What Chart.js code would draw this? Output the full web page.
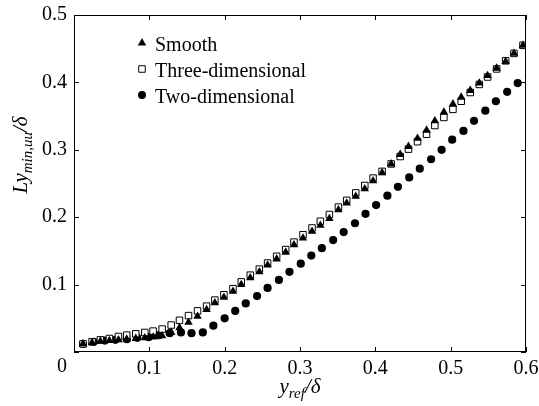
<!DOCTYPE html>
<html><head><meta charset="utf-8">
<script src="https://cdn.jsdelivr.net/npm/chart.js@4/dist/chart.umd.min.js"></script>
<style>html,body{margin:0;padding:0;background:#fff;}#wrap{width:539px;height:406px;position:relative;}</style>
</head><body><div id="wrap"><canvas id="c"></canvas></div>
<script>
// ---- data ----
const seriesNames = ['Smooth', 'Three-dimensional', 'Two-dimensional'];
const smoothX = [0.012,0.024,0.035,0.047,0.059,0.070,0.082,0.094,0.105,0.117,0.129,0.140,0.152,0.164,0.176,0.187,0.199,0.211,0.222,0.234,0.246,0.257,0.269,0.281,0.292,0.304,0.316,0.327,0.339,0.351,0.362,0.374,0.386,0.397,0.409,0.421,0.433,0.444,0.456,0.468,0.479,0.491,0.503,0.514,0.526,0.538,0.549,0.561,0.573,0.584,0.596];
const smoothY = [0.012,0.014,0.016,0.017,0.018,0.019,0.020,0.021,0.022,0.024,0.029,0.036,0.044,0.053,0.063,0.073,0.081,0.090,0.100,0.110,0.119,0.129,0.138,0.148,0.159,0.169,0.179,0.188,0.198,0.211,0.221,0.231,0.242,0.254,0.266,0.279,0.293,0.305,0.317,0.329,0.343,0.356,0.368,0.378,0.388,0.399,0.410,0.421,0.431,0.443,0.455];
const threeDX = [0.012,0.024,0.035,0.047,0.059,0.070,0.082,0.094,0.105,0.117,0.129,0.140,0.152,0.164,0.176,0.187,0.199,0.211,0.222,0.234,0.246,0.257,0.269,0.281,0.292,0.304,0.316,0.327,0.339,0.351,0.362,0.374,0.386,0.397,0.409,0.421,0.433,0.444,0.456,0.468,0.479,0.491,0.503,0.514,0.526,0.538,0.549,0.561,0.573,0.584,0.596];
const threeDY = [0.012,0.015,0.018,0.020,0.023,0.025,0.027,0.029,0.031,0.034,0.040,0.047,0.054,0.061,0.068,0.077,0.085,0.094,0.104,0.114,0.123,0.132,0.142,0.152,0.163,0.174,0.184,0.194,0.204,0.215,0.225,0.236,0.247,0.258,0.268,0.279,0.290,0.301,0.312,0.323,0.336,0.348,0.360,0.372,0.385,0.397,0.408,0.420,0.432,0.443,0.455];
const twoDX = [0.012,0.026,0.041,0.055,0.070,0.084,0.099,0.113,0.127,0.142,0.156,0.171,0.185,0.200,0.214,0.228,0.243,0.257,0.272,0.286,0.301,0.315,0.329,0.344,0.358,0.373,0.387,0.401,0.416,0.430,0.445,0.459,0.474,0.488,0.502,0.517,0.531,0.546,0.560,0.575,0.589];
const twoDY = [0.012,0.015,0.017,0.018,0.019,0.021,0.022,0.025,0.028,0.029,0.028,0.029,0.039,0.050,0.061,0.072,0.083,0.095,0.107,0.119,0.131,0.143,0.154,0.166,0.178,0.191,0.205,0.218,0.232,0.245,0.259,0.272,0.286,0.300,0.315,0.328,0.343,0.358,0.372,0.386,0.399];
const xTickValues = [0, 0.1, 0.2, 0.3, 0.4, 0.5, 0.6];
const yTickValues = [0, 0.1, 0.2, 0.3, 0.4, 0.5];

const pts = (xs, ys) => xs.map((v, i) => ({x: v, y: ys[i]}));
const SERIF = '"Liberation Serif", "Times New Roman", serif';

const styles = [
  {pointStyle: 'triangle', pointRadius: 4.9, backgroundColor: '#000', borderColor: '#000', borderWidth: 0},
  {pointStyle: 'rect', pointRadius: 4.6, backgroundColor: '#fff', borderColor: '#000', borderWidth: 1},
  {pointStyle: 'circle', pointRadius: 4.1, backgroundColor: '#000', borderColor: '#000', borderWidth: 0}
];

function drawRuns(ctx, parts, cx, by) {
  let w = 0;
  parts.forEach(p => { ctx.font = p.font; p.w = ctx.measureText(p.t).width; w += p.w; });
  let xx = cx - w / 2;
  parts.forEach(p => { ctx.font = p.font; ctx.fillText(p.t, xx, by + (p.dy || 0)); xx += p.w; });
}

function marker(ctx, style, x, y, r) {
  ctx.beginPath();
  if (style === 'triangle') {
    for (let k = 0; k < 3; k++) {
      const ang = k * 2 * Math.PI / 3;
      const px = x + Math.sin(ang) * r, py = y - Math.cos(ang) * r;
      k ? ctx.lineTo(px, py) : ctx.moveTo(px, py);
    }
    ctx.closePath(); ctx.fillStyle = '#000'; ctx.fill();
  } else if (style === 'rect') {
    const s = r * Math.SQRT1_2;
    ctx.rect(x - s, y - s, 2 * s, 2 * s);
    ctx.fillStyle = '#fff'; ctx.fill(); ctx.strokeStyle = '#000'; ctx.lineWidth = 1; ctx.stroke();
  } else {
    ctx.arc(x, y, r, 0, Math.PI * 2); ctx.fillStyle = '#000'; ctx.fill();
  }
}

const decor = {
  id: 'decor',
  afterDraw(chart) {
    const {ctx, chartArea: a, scales: {x, y}} = chart;
    ctx.save();
    ctx.strokeStyle = '#000'; ctx.lineWidth = 1;
    ctx.strokeRect(a.left + 0.5, a.top + 0.5, a.right - a.left - 1, a.bottom - a.top - 1);
    const L = 5;
    ctx.beginPath();
    xTickValues.forEach(v => {
      const px = Math.round(x.getPixelForValue(v)) + 0.5;
      ctx.moveTo(px, a.bottom); ctx.lineTo(px, a.bottom - L);
      ctx.moveTo(px, a.top); ctx.lineTo(px, a.top + L);
    });
    yTickValues.forEach(v => {
      const py = Math.round(y.getPixelForValue(v)) + 0.5;
      ctx.moveTo(a.left, py); ctx.lineTo(a.left + L, py);
      ctx.moveTo(a.right, py); ctx.lineTo(a.right - L, py);
    });
    ctx.stroke();

    ctx.fillStyle = '#000';
    // shared origin label
    ctx.font = '20px ' + SERIF;
    ctx.textAlign = 'right'; ctx.textBaseline = 'middle';
    ctx.fillText('0', x.getPixelForValue(0) - 7, a.bottom + 15);

    // axis titles
    ctx.textAlign = 'left'; ctx.textBaseline = 'alphabetic';
    const it = 'italic 21px ' + SERIF, sub = 'italic 15px ' + SERIF;
    drawRuns(ctx, [{t: 'y', font: it}, {t: 'ref', font: sub, dy: 5}, {t: '/δ', font: it}],
      (a.left + a.right) / 2, a.bottom + 41);
    ctx.save();
    ctx.translate(a.left - 47, a.top + 140);
    ctx.rotate(-Math.PI / 2);
    drawRuns(ctx, [{t: 'Ly', font: it}, {t: 'min,uu', font: sub, dy: 5}, {t: '/δ', font: it}], 0, 0);
    ctx.restore();

    // legend
    ctx.font = '20px ' + SERIF;
    ctx.textAlign = 'left'; ctx.textBaseline = 'alphabetic';
    const legR = [4.9, 4.6, 4.0];
    seriesNames.forEach((name, i) => {
      const my = a.top + 28 + i * 26;
      marker(ctx, styles[i].pointStyle, a.left + 68, my, legR[i]);
      ctx.fillStyle = '#000';
      ctx.fillText(name, a.left + 81, my + 8);
    });
    ctx.restore();
  }
};

const tickFont = {family: SERIF, size: 20};
new Chart(document.getElementById('c'), {
  type: 'scatter',
  data: {
    datasets: [
      {label: seriesNames[0], data: pts(smoothX, smoothY), ...styles[0]},
      {label: seriesNames[1], data: pts(threeDX, threeDY), ...styles[1]},
      {label: seriesNames[2], data: pts(twoDX, twoDY), ...styles[2]}
    ]
  },
  options: {
    responsive: true, maintainAspectRatio: false, animation: false,
    layout: {padding: {top: 15, right: 13, left: 0, bottom: 0}},
    plugins: {legend: {display: false}, tooltip: {enabled: false}},
    scales: {
      x: {
        type: 'linear', min: 0, max: 0.6,
        afterBuildTicks: s => { s.ticks = xTickValues.map(v => ({value: v})); },
        afterFit: s => { s.height = 54; s.paddingLeft = 0; s.paddingRight = 0; },
        grid: {display: false, drawTicks: false}, border: {display: false},
        ticks: {font: tickFont, color: '#000', padding: 5, maxRotation: 0,
          callback: v => v === 0 ? '' : v.toFixed(1)}
      },
      y: {
        type: 'linear', min: 0, max: 0.5,
        afterBuildTicks: s => { s.ticks = yTickValues.map(v => ({value: v})); },
        afterFit: s => { s.width = 74; s.paddingTop = 0; s.paddingBottom = 0; },
        grid: {display: false, drawTicks: false}, border: {display: false},
        ticks: {font: tickFont, color: '#000', padding: 7,
          callback: v => v === 0 ? '' : v.toFixed(1)}
      }
    }
  },
  plugins: [decor]
});
</script></body></html>
